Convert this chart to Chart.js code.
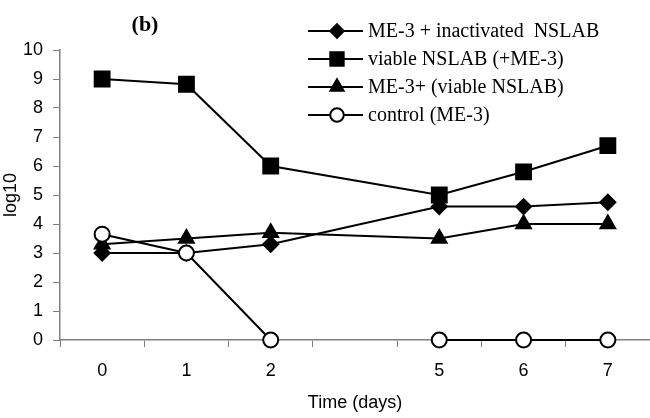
<!DOCTYPE html>
<html>
<head>
<meta charset="utf-8">
<script src="https://cdn.jsdelivr.net/npm/chart.js@4/dist/chart.umd.min.js"></script>
<style>
  html, body { margin: 0; padding: 0; background: #fff; }
</style>
</head>
<body>
<canvas id="myChart" width="650" height="418"></canvas>
<script>
// Datos (dia 3-4 sin medicion, categoria vacia)
const dias = ["0", "1", "2", "", "5", "6", "7"];
const me3Inactivado = [3.0, 3.0, 3.3, null, 4.6, 4.6, 4.75];
const nslabViable = [9.0, 8.82, 6.0, null, 5.0, 5.8, 6.7];
const me3ConViable = [3.3, 3.5, 3.7, null, 3.5, 4.0, 4.0];
const controlMe3 = [3.65, 3.0, 0, null, 0, 0, 0];
const nombres = [
    "ME-3 + inactivated  NSLAB",
    "viable NSLAB (+ME-3)",
    "ME-3+ (viable NSLAB)",
    "control (ME-3)"
];
const ticksY = [0, 10, 1]; // min, max, paso

const gris = "#808080";

function serie(label, data, estilo, radio, relleno, span, orden) {
    return {
        label,
        data,
        borderColor: "#000",
        borderWidth: 2,
        pointStyle: estilo,
        pointRadius: radio,
        pointHoverRadius: radio,
        pointBackgroundColor: relleno,
        pointBorderColor: "#000",
        pointBorderWidth: 2,
        tension: 0,
        spanGaps: span,
        clip: false,
        order: orden
    };
}

// Leyenda con linea + marcador, y el titulo "(b)"
const leyendaPlugin = {
    id: "leyendaLinea",
    afterDraw: (chart) => {
        const { ctx } = chart;
        ctx.save();
        // titulo del panel
        ctx.fillStyle = "#000";
        ctx.font = "bold 22px 'Liberation Serif'";
        ctx.textAlign = "center";
        ctx.textBaseline = "middle";
        ctx.fillText("(b)", 145, 25);

        const x0 = 308, x1 = 363, xm = 337, xt = 368;
        let y = 31;
        chart.data.datasets.forEach((ds) => {
            ctx.strokeStyle = "#000";
            ctx.lineWidth = 2;
            ctx.beginPath();
            ctx.moveTo(x0, y);
            ctx.lineTo(x1, y);
            ctx.stroke();
            ctx.fillStyle = ds.pointBackgroundColor;
            Chart.helpers.drawPoint(ctx, {
                pointStyle: ds.pointStyle,
                rotation: 0,
                radius: ds.pointRadius * 0.9,
                borderWidth: 2
            }, xm, y);
            ctx.fillStyle = "#000";
            ctx.font = "20px 'Liberation Serif'";
            ctx.textAlign = "left";
            ctx.textBaseline = "middle";
            ctx.fillText(ds.label, xt, y + 1);
            y += 28;
        });
        ctx.restore();
    }
};

const config = {
    type: "line",
    data: {
        labels: dias,
        datasets: [
            serie(nombres[0], me3Inactivado, "rectRot", 7.5, "#000", true, 3),
            serie(nombres[1], nslabViable, "rect", 10.5, "#000", true, 2),
            serie(nombres[2], me3ConViable, "triangle", 8.5, "#000", true, 1),
            serie(nombres[3], controlMe3, "circle", 7.5, "#fff", false, 0)
        ]
    },
    options: {
        responsive: false,
        devicePixelRatio: 1,
        animation: false,
        layout: { autoPadding: false, padding: { top: 50, right: 0, left: 0, bottom: 0 } },
        plugins: {
            legend: { display: false },
            tooltip: { enabled: false }
        },
        scales: {
            x: {
                type: "category",
                offset: true,
                grid: { offset: true, drawOnChartArea: false, tickLength: 7, color: gris, lineWidth: 1 },
                border: { color: gris, width: 1.5 },
                ticks: {
                    color: "#000",
                    font: { family: "'Liberation Sans'", size: 18 },
                    padding: 13,
                    maxRotation: 0,
                    autoSkip: false
                },
                title: {
                    display: true,
                    text: "Time (days)",
                    color: "#000",
                    font: { family: "'Liberation Sans'", size: 18 },
                    padding: { top: 2 }
                },
                afterFit: (scale) => {
                    scale.height = 78;
                    scale.paddingRight = 0;
                    scale.paddingLeft = 0;
                }
            },
            y: {
                min: ticksY[0],
                max: ticksY[1],
                grid: { drawOnChartArea: false, tickLength: 7, color: gris, lineWidth: 1 },
                border: { color: gris, width: 1.5 },
                ticks: {
                    stepSize: ticksY[2],
                    color: "#000",
                    font: { family: "'Liberation Sans'", size: 18 },
                    padding: 10
                },
                title: {
                    display: true,
                    text: "log10",
                    color: "#000",
                    font: { family: "'Liberation Sans'", size: 18 },
                    padding: { top: 0, bottom: 0 }
                },
                afterFit: (scale) => { scale.width = 60; }
            }
        }
    },
    plugins: [leyendaPlugin]
};

const myChart = new Chart(document.querySelector("#myChart"), config);
</script>
</body>
</html>
